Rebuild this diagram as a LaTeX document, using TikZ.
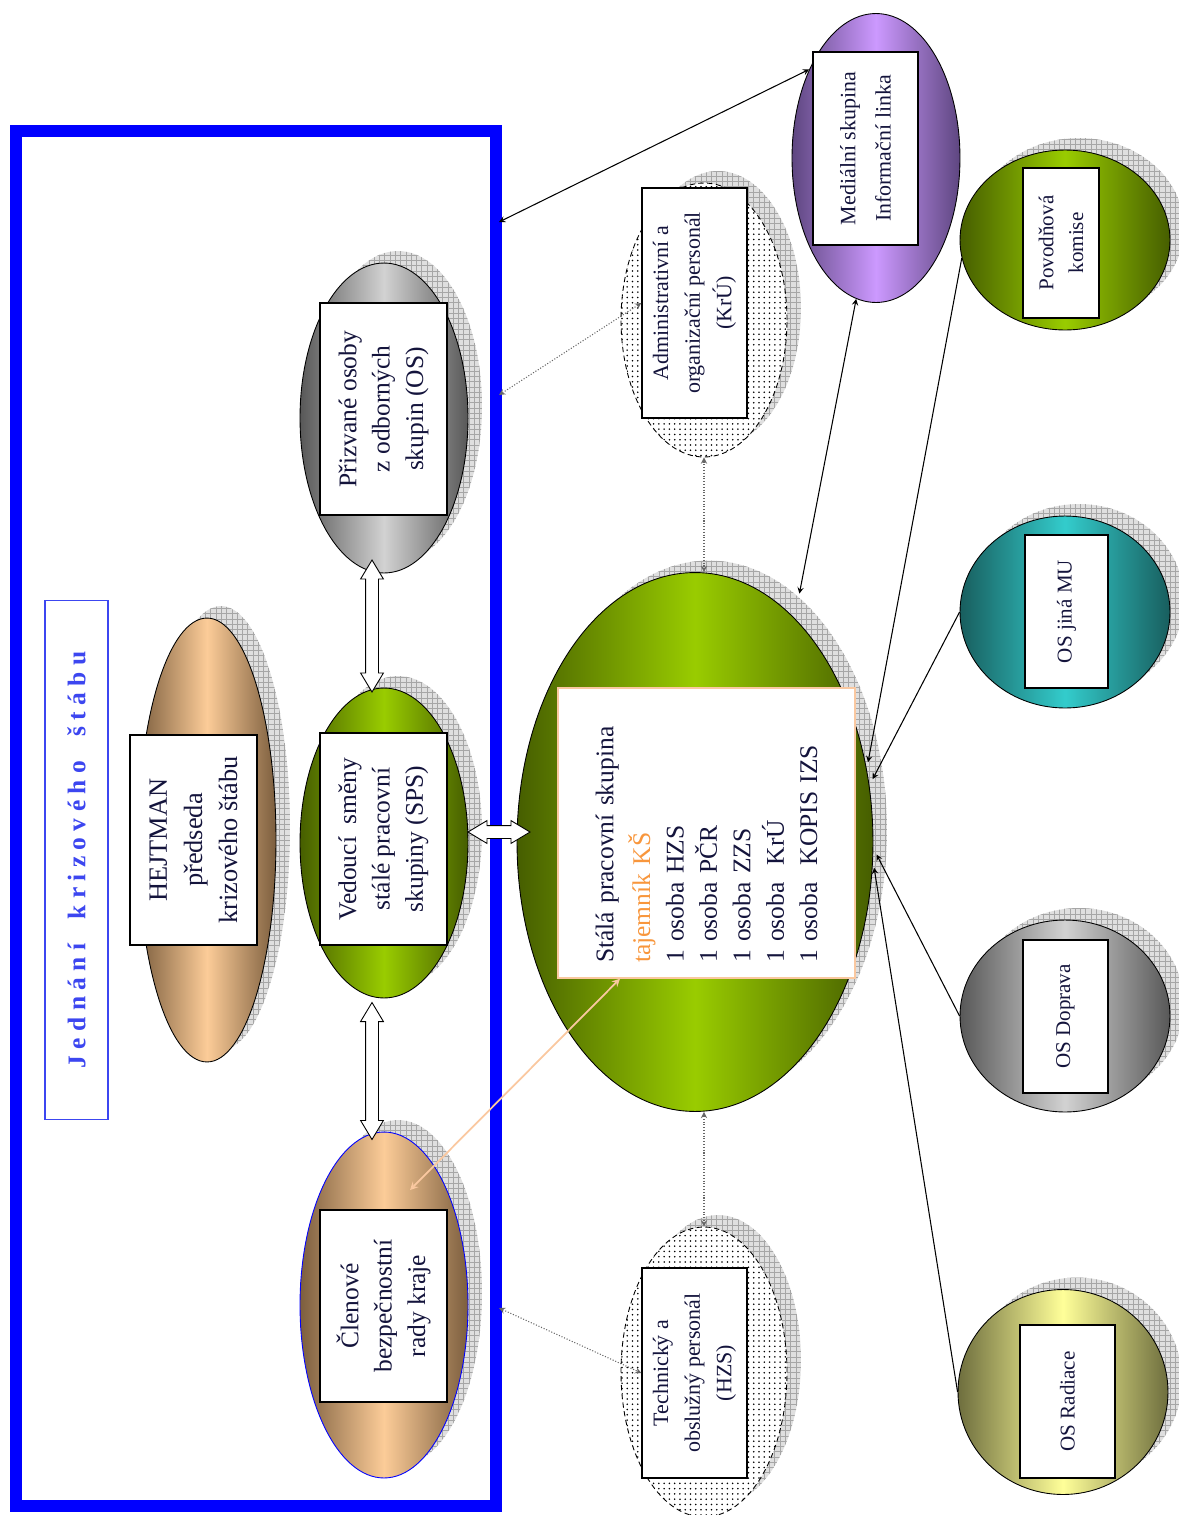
\documentclass[tikz,border=0pt]{standalone}
\usepackage{fontspec}
\setmainfont{Liberation Serif}
\usetikzlibrary{shapes.geometric, shapes.arrows, arrows, patterns, shadows, calc}

\definecolor{inkcol}{RGB}{20,20,60}
\definecolor{peachL}{RGB}{252,204,152}
\definecolor{peachD}{RGB}{124,94,62}
\definecolor{limeL}{RGB}{153,204,0}
\definecolor{limeD}{RGB}{70,94,0}
\definecolor{greyL}{RGB}{210,210,210}
\definecolor{greyD}{RGB}{88,88,88}
\definecolor{lilacL}{RGB}{204,153,255}
\definecolor{lilacD}{RGB}{94,70,128}
\definecolor{tealL}{RGB}{51,204,204}
\definecolor{tealD}{RGB}{24,94,94}
\definecolor{lemonL}{RGB}{255,255,153}
\definecolor{lemonD}{RGB}{110,110,62}
\definecolor{frameblue}{RGB}{0,0,255}
\definecolor{titleblue}{RGB}{60,70,240}
\definecolor{secorange}{RGB}{248,150,60}
\definecolor{peachline}{RGB}{250,200,160}

\tikzstyle{blob} = [ellipse, draw=black, line width=0.5pt, inner sep=0pt]
\tikzstyle{shadowed} = [general shadow={shadow xshift=0.28cm, shadow yshift=0.24cm, fill=gray!25}, general shadow={shadow xshift=0.28cm, shadow yshift=0.24cm, pattern=grid, pattern color=gray!70}]
\tikzstyle{peachy} = [left color=peachD, right color=peachD, middle color=peachL]
\tikzstyle{limey} = [left color=limeD, right color=limeD, middle color=limeL]
\tikzstyle{greyish} = [left color=greyD, right color=greyD, middle color=greyL]
\tikzstyle{lilac} = [left color=lilacD, right color=lilacD, middle color=lilacL]
\tikzstyle{tealy} = [left color=tealD, right color=tealD, middle color=tealL]
\tikzstyle{lemony} = [left color=lemonD, right color=lemonD, middle color=lemonL]
\tikzstyle{dotfill} = [preaction={fill=white}, pattern=dots, pattern color=black, densely dashed]
\tikzstyle{namebox} = [rectangle, draw=black, line width=0.8pt, fill=white, rotate=90, text=inkcol, align=center, inner sep=0pt, font=\fontsize{14.5}{19}\selectfont]
\tikzstyle{smallbox} = [namebox, font=\fontsize{12.5}{18}\selectfont]
\tikzstyle{osbox} = [namebox, font=\fontsize{12}{17}\selectfont]
\tikzstyle{bigarrow} = [double arrow, draw=black, fill=white, line width=0.5pt, inner xsep=0pt, inner ysep=0.12cm, double arrow head extend=0.1cm, double arrow tip angle=62]
\tikzstyle{link} = [line width=0.6pt, <->, >=stealth]
\tikzstyle{dotlink} = [line width=0.6pt, densely dotted, black!60, <->, >=stealth]
\tikzstyle{feed} = [line width=0.6pt, ->, >=stealth, shorten >=0.14cm]

\begin{document}
\begin{tikzpicture}[x=0.02cm, y=-0.02cm]
\useasboundingbox (0,0) rectangle (1178,1515);

\node (ks) [rectangle, draw=frameblue, line width=0.24cm, minimum width=9.6cm, minimum height=27.5cm] at (256,818.5) {};
\node (title) [rectangle, draw=titleblue, line width=0.6pt, rotate=90, minimum width=10.4cm, minimum height=1.26cm, text=titleblue, font=\fontsize{14.5}{16}\selectfont\bfseries] at (76.5,860) {J e d n á n í\hspace{0.7em} k r i z o v é h o\hspace{0.7em} š t á b u};

\node (hej) [blob, shadowed, peachy, minimum width=2.76cm, minimum height=8.88cm] at (207,840) {};
\node (hejbox) [namebox, font=\fontsize{15}{20}\selectfont, minimum width=4.2cm, minimum height=2.54cm] at (193.5,840) {HEJTMAN\\ předseda\\ krizového štábu};

\node (ext) [blob, shadowed, greyish, minimum width=3.36cm, minimum height=6.2cm] at (384,418) {};
\node (extbox) [namebox, minimum width=4.24cm, minimum height=2.54cm] at (383.5,409) {Přizvané osoby\\ z odborných\\ skupin (OS)};

\node (sps) [blob, shadowed, limey, minimum width=3.36cm, minimum height=6.2cm] at (384,843) {};
\node (spsbox) [namebox, minimum width=4.24cm, minimum height=2.54cm] at (383.5,839) {Vedoucí\ \ směny\\ stálé pracovní\\ skupiny (SPS)};

\node (clen) [blob, shadowed, peachy, draw=blue, minimum width=3.36cm, minimum height=6.92cm] at (384,1305) {};
\node (clenbox) [namebox, minimum width=3.84cm, minimum height=2.54cm] at (383.5,1306) {Členové\\ bezpečnostní\\ rady kraje};

\node (stala) [blob, shadowed, limey, minimum width=7.12cm, minimum height=10.78cm] at (695,842) {};
\node (stalabox) [namebox, draw=peachline, align=left, text width=5.2cm, inner xsep=0.3cm, minimum height=5.94cm] at (706.5,833) {Stálá pracovní skupina\\[2pt] \textcolor{secorange}{tajemník KŠ}\\ 1 osoba HZS\\ 1 osoba PČR\\ 1 osoba ZZS\\ 1 osoba\ \ KrÚ\\ 1 osoba\ \ KOPIS IZS};

\node (adm) [blob, shadowed, dotfill, minimum width=3.32cm, minimum height=5.48cm] at (704,320) {};
\node (admbox) [smallbox, minimum width=4.6cm, minimum height=2.1cm] at (694.5,303) {Administrativní a\\ organizační personál\\ (KrÚ)};

\node (tech) [blob, shadowed, dotfill, minimum width=3.32cm, minimum height=5.8cm] at (704,1372) {};
\node (techbox) [smallbox, minimum width=4.2cm, minimum height=2.1cm] at (694.5,1373) {Technický a\\ obslužný personál\\ (HZS)};

\node (med) [blob, lilac, minimum width=3.36cm, minimum height=5.78cm] at (876,158) {};
\node (medbox) [smallbox, font=\fontsize{12.5}{20}\selectfont, minimum width=3.86cm, minimum height=2.1cm] at (865.5,148.5) {Mediální skupina\\ Informační linka};

\node (pov) [blob, shadowed, limey, minimum width=4.2cm, minimum height=3.6cm] at (1065,240) {};
\node (povbox) [osbox, minimum width=3.0cm, minimum height=1.52cm] at (1061,243) {Povodňová\\ komise};

\node (mu) [blob, shadowed, tealy, minimum width=4.2cm, minimum height=3.84cm] at (1065,612) {};
\node (mubox) [osbox, minimum width=3.06cm, minimum height=1.66cm] at (1066.5,611.5) {OS jiná MU};

\node (dop) [blob, shadowed, greyish, minimum width=4.2cm, minimum height=3.84cm] at (1065,1016) {};
\node (dopbox) [osbox, minimum width=3.06cm, minimum height=1.7cm] at (1065.5,1016.5) {OS Doprava};

\node (rad) [blob, shadowed, lemony, minimum width=4.2cm, minimum height=4.1cm] at (1063,1392) {};
\node (radbox) [osbox, minimum width=3.06cm, minimum height=1.9cm] at (1067.5,1401.5) {OS Radiace};

\node (a1) [bigarrow, rotate=90, minimum height=2.64cm] at (372,626) {};
\node (a2) [bigarrow, rotate=90, minimum height=2.74cm] at (372,1071) {};
\node (a3) [bigarrow, minimum height=1.24cm] at (499,832) {};

\coordinate (f1) at (499,222);
\coordinate (f2) at (499,395);
\coordinate (f3) at (499,1308);
\coordinate (kstip) at (410,1190);

\draw [link] (f1) -- (med.127);
\draw [dotlink] (f2) -- (admbox.north);
\draw [dotlink] (f3) -- (techbox.north);
\draw [dotlink] (adm.south) -- (adm.south |- stala.north);
\draw [dotlink] (tech.north |- stala.south) -- (tech.north);
\draw [link, shorten >=0.5cm] (med.-98) -- (stala.66);
\draw [feed] (pov.190) -- (stala.23);
\draw [feed] (mu.west) -- (stala.18);
\draw [feed] (dop.west) -- (stala.-2);
\draw [feed] (rad.west) -- (stala.-6);
\draw [link, peachline, line width=1pt] (kstip) -- ($(stalabox.north west)!0.21!(stalabox.south west)$);
\end{tikzpicture}
\end{document}
